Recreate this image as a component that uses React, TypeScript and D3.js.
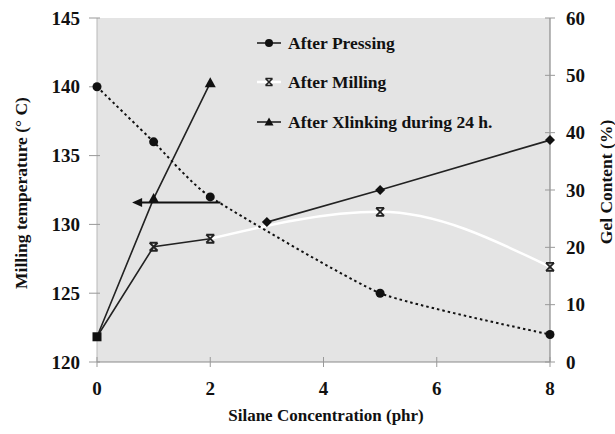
import React from "react";
import * as d3 from "d3";

// Silane concentration (phr) where samples were taken
const silane = [0, 1, 2, 5, 8];
// Milling temperature (°C), left axis
const millingTemp = [140, 136, 132, 125, 122];

// Gel content (%), right axis
const pressingX = [3, 5, 8];
const pressingGel = [24.4, 30.0, 38.7];
const millingX = [0, 1, 2, 5, 8];
const millingGel = [4.4, 20.1, 21.5, 26.2, 16.6];
const xlinkX = [0, 1, 2];
const xlinkGel = [4.4, 28.5, 48.7];

// Arrow pointing the temperature curve to the left axis
const arrowX = [0.62, 2.18];
const arrowTemp = 131.6;

const xTicks = [0, 2, 4, 6, 8];
const leftTicks = [120, 125, 130, 135, 140, 145];
const rightTicks = [0, 10, 20, 30, 40, 50, 60];
const legendLabels = ["After Pressing", "After Milling", "After Xlinking during 24 h."];

const W = 615;
const H = 434;
const L = 97, R = 550, T = 18, B = 362;
const font = "Liberation Serif, Times New Roman, Tinos, Noto Serif, DejaVu Serif, FreeSerif, serif";

export default function App() {
  const x = d3.scaleLinear().domain([0, 8]).range([L, R]);
  const yL = d3.scaleLinear().domain([120, 145]).range([B, T]);
  const yR = d3.scaleLinear().domain([0, 60]).range([B, T]);

  const tempLine = d3
    .line<number>()
    .x((_, i) => x(silane[i]))
    .y((d) => yL(d))
    .curve(d3.curveCardinal.tension(0.5))(millingTemp) as string;

  const pressLine = d3
    .line<number>()
    .x((_, i) => x(pressingX[i]))
    .y((d) => yR(d))(pressingGel) as string;

  const millDark = d3
    .line<number>()
    .x((_, i) => x(millingX[i]))
    .y((d) => yR(d))(millingGel.slice(0, 3)) as string;

  const millWhite = d3
    .line<number>()
    .x((_, i) => x(millingX[i + 2]))
    .y((d) => yR(d))
    .curve(d3.curveMonotoneX)(millingGel.slice(2)) as string;

  const xlinkLine = d3
    .line<number>()
    .x((_, i) => x(xlinkX[i]))
    .y((d) => yR(d))(xlinkGel) as string;

  const tri = (cx: number, cy: number, s = 6) =>
    `M${cx},${cy - s} L${cx + s},${cy + s * 0.8} L${cx - s},${cy + s * 0.8} Z`;
  const cross = (cx: number, cy: number, s = 4) =>
    `M${cx - s},${cy - s} L${cx + s},${cy + s} M${cx + s},${cy - s} L${cx - s},${cy + s} M${cx - s},${cy - s} L${cx + s},${cy - s} M${cx - s},${cy + s} L${cx + s},${cy + s}`;

  const ay = yL(arrowTemp);
  const ax0 = x(arrowX[0]);
  const ax1 = x(arrowX[1]);

  const legendY = [43, 82, 122];

  return (
    <svg
      width={W}
      height={H}
      style={{ position: "absolute", left: 0, top: 0, background: "#fff" }}
    >
      <g fontFamily={font} fontWeight="bold" fill="#111">
        <rect x={L} y={T} width={R - L} height={B - T} fill="#e4e4e4" />

        {/* axis lines */}
        <line x1={L} x2={L} y1={T} y2={B} stroke="#b8b8b8" strokeWidth={1} />
        <line x1={L} x2={R} y1={B} y2={B} stroke="#8a8a8a" strokeWidth={1.2} />
        <line x1={R} x2={R} y1={T} y2={B} stroke="#8a8a8a" strokeWidth={1.2} />

        {/* left axis */}
        {leftTicks.map((t) => (
          <g key={"l" + t}>
            <line x1={L - 8} x2={L + 3} y1={yL(t)} y2={yL(t)} stroke="#999" />
            <text x={80} y={yL(t)} dy="0.35em" textAnchor="end" fontSize={19}>
              {t}
            </text>
          </g>
        ))}
        {/* right axis */}
        {rightTicks.map((t) => (
          <g key={"r" + t}>
            <line x1={R - 5} x2={R + 5} y1={yR(t)} y2={yR(t)} stroke="#999" />
            <text x={566} y={yR(t)} dy="0.35em" textAnchor="start" fontSize={19}>
              {t}
            </text>
          </g>
        ))}
        {/* bottom axis */}
        {xTicks.map((t) => (
          <g key={"x" + t}>
            <line x1={x(t)} x2={x(t)} y1={B - 5} y2={B + 5} stroke="#999" />
            <text x={x(t)} y={395} textAnchor="middle" fontSize={19}>
              {t}
            </text>
          </g>
        ))}

        {/* titles */}
        <text x={326} y={421} textAnchor="middle" fontSize={17}>
          Silane Concentration (phr)
        </text>
        <text transform={`translate(27,193) rotate(-90)`} textAnchor="middle" fontSize={17.5}>
          Milling temperature (° C)
        </text>
        <text transform={`translate(612,182) rotate(-90)`} textAnchor="middle" fontSize={17.5}>
          Gel Content (%)
        </text>

        {/* After Milling: white smoothed trace over the gray field */}
        <path d={millWhite} fill="none" stroke="#fff" strokeWidth={2.5} />
        <path d={millDark} fill="none" stroke="#222" strokeWidth={1.6} />

        {/* After Xlinking */}
        <path d={xlinkLine} fill="none" stroke="#222" strokeWidth={1.6} />

        {/* After Pressing */}
        <path d={pressLine} fill="none" stroke="#222" strokeWidth={1.6} />

        {/* Milling temperature, dotted */}
        <path d={tempLine} fill="none" stroke="#111" strokeWidth={2} strokeDasharray="2.5,3" />

        {/* arrow toward the temperature axis */}
        <line x1={ax0 + 4} x2={ax1} y1={ay} y2={ay} stroke="#111" strokeWidth={2} />
        <path d={`M${ax0},${ay} L${ax0 + 10},${ay - 4.5} L${ax0 + 10},${ay + 4.5} Z`} />

        {/* markers */}
        {millingTemp.map((v, i) => (
          <circle key={"t" + i} cx={x(silane[i])} cy={yL(v)} r={4.5} />
        ))}
        {pressingGel.map((v, i) => (
          <path key={"p" + i} d={`M${x(pressingX[i])},${yR(v) - 5} l5,5 l-5,5 l-5,-5 Z`} />
        ))}
        {millingGel.map((v, i) =>
          millingX[i] === 0 ? null : (
            <path key={"m" + i} d={cross(x(millingX[i]), yR(v))} stroke="#222" strokeWidth={1.8} fill="none" />
          )
        )}
        {xlinkGel.map((v, i) =>
          xlinkX[i] === 0 ? null : <path key={"k" + i} d={tri(x(xlinkX[i]), yR(v), 5.5)} />
        )}
        <rect x={x(0) - 4.5} y={yR(4.4) - 4.5} width={9} height={9} />

        {/* legend */}
        <line x1={257} x2={281} y1={legendY[0]} y2={legendY[0]} stroke="#222" strokeWidth={1.6} />
        <circle cx={269} cy={legendY[0]} r={4} />
        <line x1={257} x2={281} y1={legendY[1]} y2={legendY[1]} stroke="#fff" strokeWidth={2.5} />
        <path d={cross(269, legendY[1], 3.5)} stroke="#222" strokeWidth={1.6} fill="none" />
        <line x1={257} x2={281} y1={legendY[2]} y2={legendY[2]} stroke="#222" strokeWidth={1.6} />
        <path d={tri(269, legendY[2], 4.5)} />
        {legendLabels.map((s, i) => (
          <text key={s} x={288} y={legendY[i]} dy="0.35em" fontSize={17.5}>
            {s}
          </text>
        ))}
      </g>
    </svg>
  );
}
